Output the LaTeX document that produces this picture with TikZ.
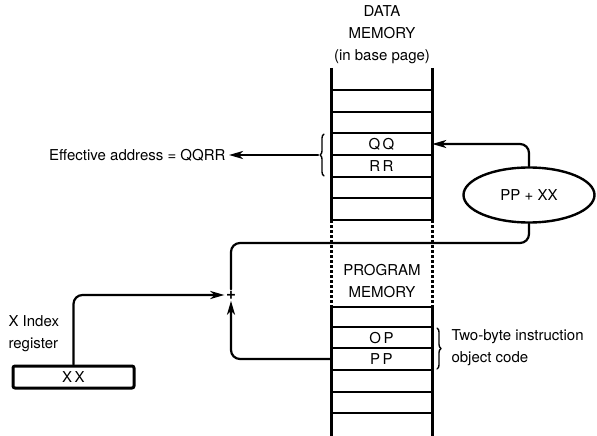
\documentclass[tikz,border=0pt]{standalone}
\usepackage{fontspec}
\setmainfont{TeX Gyre Heros}
\usetikzlibrary{arrows.meta,shapes.geometric,decorations.pathreplacing}

\begin{document}
\begin{tikzpicture}[x=1pt,y=-1pt,line cap=round,line join=round,
  font=\fontsize{15}{22}\selectfont,
  colside/.style={line width=3pt,line cap=butt},
  rowline/.style={line width=1.8pt},
  flow/.style={line width=2.2pt,rounded corners=9pt},
  tip/.style={-{Stealth[length=14pt,width=8pt,inset=4pt]}},
  cell/.style={minimum width=101pt,minimum height=21pt,inner sep=0pt}]
  \useasboundingbox (0,0) rectangle (597,436);

  % Memory column: data part, dashed break, program part
  \foreach \cx in {331,432} {
    \draw[colside] (\cx,68) -- (\cx,220);
    \draw[colside,dash pattern=on 3pt off 2pt] (\cx,220) -- (\cx,307);
    \draw[colside] (\cx,307) -- (\cx,436);
  }
  \foreach \ry in {90,112,133,155,177,198,220,307,327,348,370,392,413}
    \draw[rowline] (331,\ry) -- (432,\ry);

  \node[align=center] (title) at (382,35) {DATA\\MEMORY\\(in base page)};
  \node[align=center] (prog) at (382,281) {PROGRAM\\MEMORY};

  % Cells with contents
  \node[cell] (qq) at (381.5,144) {Q\,Q};
  \node[cell] (rr) at (381.5,166) {R\,R};
  \node[cell] (op) at (381.5,338) {O\,P};
  \node[cell] (pp) at (381.5,359) {P\,P};

  % Adder, register and junction
  \node[draw,ellipse,line width=2.4pt,minimum width=131pt,minimum height=55pt,inner sep=0pt] (sum) at (529,195) {PP + XX};
  \node[draw,line width=3pt,rounded corners=2pt,minimum width=121pt,minimum height=22pt,inner sep=0pt] (xreg) at (73.5,377) {X\,X};
  \node[anchor=west,align=left] (xlabel) at (5,334) {X Index\\register};
  \node[inner sep=1.5pt,font=\fontsize{17}{17}\selectfont\bfseries] (plus) at (231,295) {+};
  \coordinate (bend) at (231,243);

  % Effective address and brace
  \draw[line width=1.4pt,decorate,decoration={brace,amplitude=4pt}] (324,176) -- (324,134);
  \coordinate (eabrace) at (318,155);
  \node[anchor=east] (ea) at (229,155) {Effective address = QQRR};
  \draw[line width=2.2pt,tip] (eabrace) -- (ea.east);

  % Instruction brace and label
  \draw[line width=1.4pt,decorate,decoration={brace,amplitude=4pt}] (437,328) -- (437,369);
  \node[anchor=west,align=left] (instr) at (448,348) {Two-byte instruction\\object code};

  % Connectors
  \draw[flow,tip] (sum.north) |- (qq.east);
  \draw[flow] (sum.south) |- (bend) -- (plus.north);
  \draw[flow,tip] (xreg.north) |- (plus.west);
  \draw[flow,tip] (pp.west) -| (plus.south);
\end{tikzpicture}
\end{document}
